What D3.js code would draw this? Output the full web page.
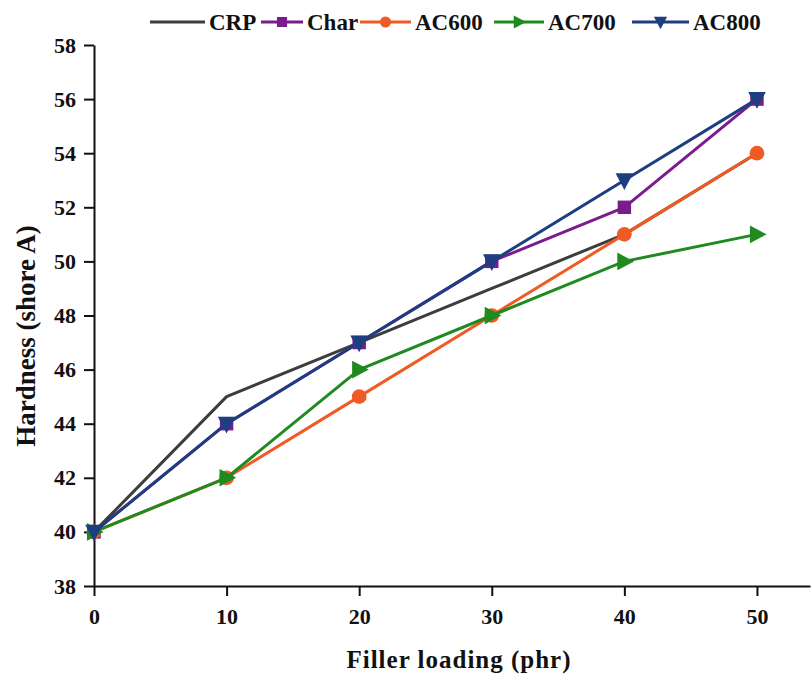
<!DOCTYPE html>
<html>
<head>
<meta charset="utf-8">
<script src="https://cdn.jsdelivr.net/npm/d3@7"></script>
<style>
    body { margin: 0; background: #fff; }
    text { font-family: "Liberation Serif", "Times New Roman", serif; font-weight: bold; }
</style>
</head>
<body>
<div class="chart-container"></div>
<script>
// Data
const loading = [0, 10, 20, 30, 40, 50];
const crp = [40, 45, 47, 49, 51, 54];
const charSeries = [40, 44, 47, 50, 52, 56];
const ac600 = [40, 42, 45, 48, 51, 54];
const ac700 = [40, 42, 46, 48, 50, 51];
const ac800 = [40, 44, 47, 50, 53, 56];
const seriesNames = ['CRP', 'Char', 'AC600', 'AC700', 'AC800'];
const xTicks = [0, 10, 20, 30, 40, 50];
const yTicks = [38, 40, 42, 44, 46, 48, 50, 52, 54, 56, 58];

const series = [
    {name: 'CRP', values: crp, color: '#3d3d3d', marker: null},
    {name: 'Char', values: charSeries, color: '#7a1c8c', marker: 'square'},
    {name: 'AC600', values: ac600, color: '#f05a24', marker: 'circle'},
    {name: 'AC700', values: ac700, color: '#1f8a1f', marker: 'right'},
    {name: 'AC800', values: ac800, color: '#1d3e80', marker: 'down'}
];

const width = 811;
const height = 675;
const margin = {top: 45, right: 1, bottom: 89, left: 94};

// Scales
const x = d3.scaleLinear()
    .domain([0, 54])
    .range([margin.left, width - margin.right]);

const y = d3.scaleLinear()
    .domain([38, 58])
    .range([height - margin.bottom, margin.top]);

const svg = d3.select('.chart-container')
    .append('svg')
    .attr('width', width)
    .attr('height', height);

// Axes
const xAxis = svg.append('g')
    .attr('transform', `translate(0,${y(38)})`)
    .call(d3.axisBottom(x).tickValues(xTicks).tickSize(10).tickSizeOuter(0).tickPadding(12));

const yAxis = svg.append('g')
    .attr('transform', `translate(${x(0)},0)`)
    .call(d3.axisLeft(y).tickValues(yTicks).tickSize(10).tickSizeOuter(0).tickPadding(8));

[xAxis, yAxis].forEach(ax => {
    ax.select('.domain').attr('stroke', '#111').attr('stroke-width', 2);
    ax.selectAll('.tick line').attr('stroke', '#111').attr('stroke-width', 2);
    ax.selectAll('.tick text')
        .attr('fill', '#111')
        .style('font-size', '22px');
});

// Axis titles
svg.append('text')
    .attr('x', 459)
    .attr('y', 668)
    .attr('text-anchor', 'middle')
    .style('font-size', '25px')
    .style('letter-spacing', '1px')
    .attr('fill', '#111')
    .text('Filler loading (phr)');

svg.append('text')
    .attr('transform', 'translate(35,336) rotate(-90)')
    .attr('text-anchor', 'middle')
    .style('font-size', '27px')
    .attr('fill', '#111')
    .text('Hardness (shore A)');

// Markers
function drawMarker(g, type, color, size) {
    if (type === 'square') {
        g.append('rect')
            .attr('x', -size * 0.42).attr('y', -size * 0.42)
            .attr('width', size * 0.84).attr('height', size * 0.84)
            .attr('fill', color);
    } else if (type === 'circle') {
        g.append('circle')
            .attr('r', size * 0.46)
            .attr('fill', color);
    } else if (type === 'right') {
        const s = size * 0.55;
        g.append('path')
            .attr('d', `M${-s * 0.8},${-s}L${s * 1.1},0L${-s * 0.8},${s}Z`)
            .attr('fill', color);
    } else if (type === 'down') {
        const s = size * 0.55;
        g.append('path')
            .attr('d', `M${-s},${-s * 0.8}L${s},${-s * 0.8}L0,${s * 1.1}Z`)
            .attr('fill', color);
    }
}

const line = d3.line()
    .x((d, i) => x(loading[i]))
    .y(d => y(d));

// Lines & points
series.forEach(s => {
    const g = svg.append('g').attr('class', 'series');
    g.append('path')
        .datum(s.values)
        .attr('fill', 'none')
        .attr('stroke', s.color)
        .attr('stroke-width', 3)
        .attr('stroke-linejoin', 'round')
        .attr('d', line);

    if (s.marker) {
        g.selectAll('g.pt')
            .data(s.values)
            .join('g')
            .attr('class', 'pt')
            .attr('transform', (d, i) => `translate(${x(loading[i])},${y(d)})`)
            .each(function () { drawMarker(d3.select(this), s.marker, s.color, 16); });
    }
});

// Legend
const legendX = [150, 261, 360, 494, 632];
const legendLen = [55, 42, 51, 50, 57];
const legend = svg.append('g').attr('class', 'legend');
series.forEach((s, i) => {
    const len = legendLen[i];
    const item = legend.append('g').attr('transform', `translate(${legendX[i]},22)`);
    item.append('line')
        .attr('x1', 0).attr('x2', len)
        .attr('stroke', s.color)
        .attr('stroke-width', 3);
    if (s.marker) {
        const m = item.append('g').attr('transform', `translate(${len / 2},0)`);
        drawMarker(m, s.marker, s.color, 12);
    }
    item.append('text')
        .attr('x', len + 4)
        .attr('y', 8)
        .style('font-size', '23px')
        .attr('fill', '#111')
        .text(seriesNames[i]);
});
</script>
</body>
</html>
